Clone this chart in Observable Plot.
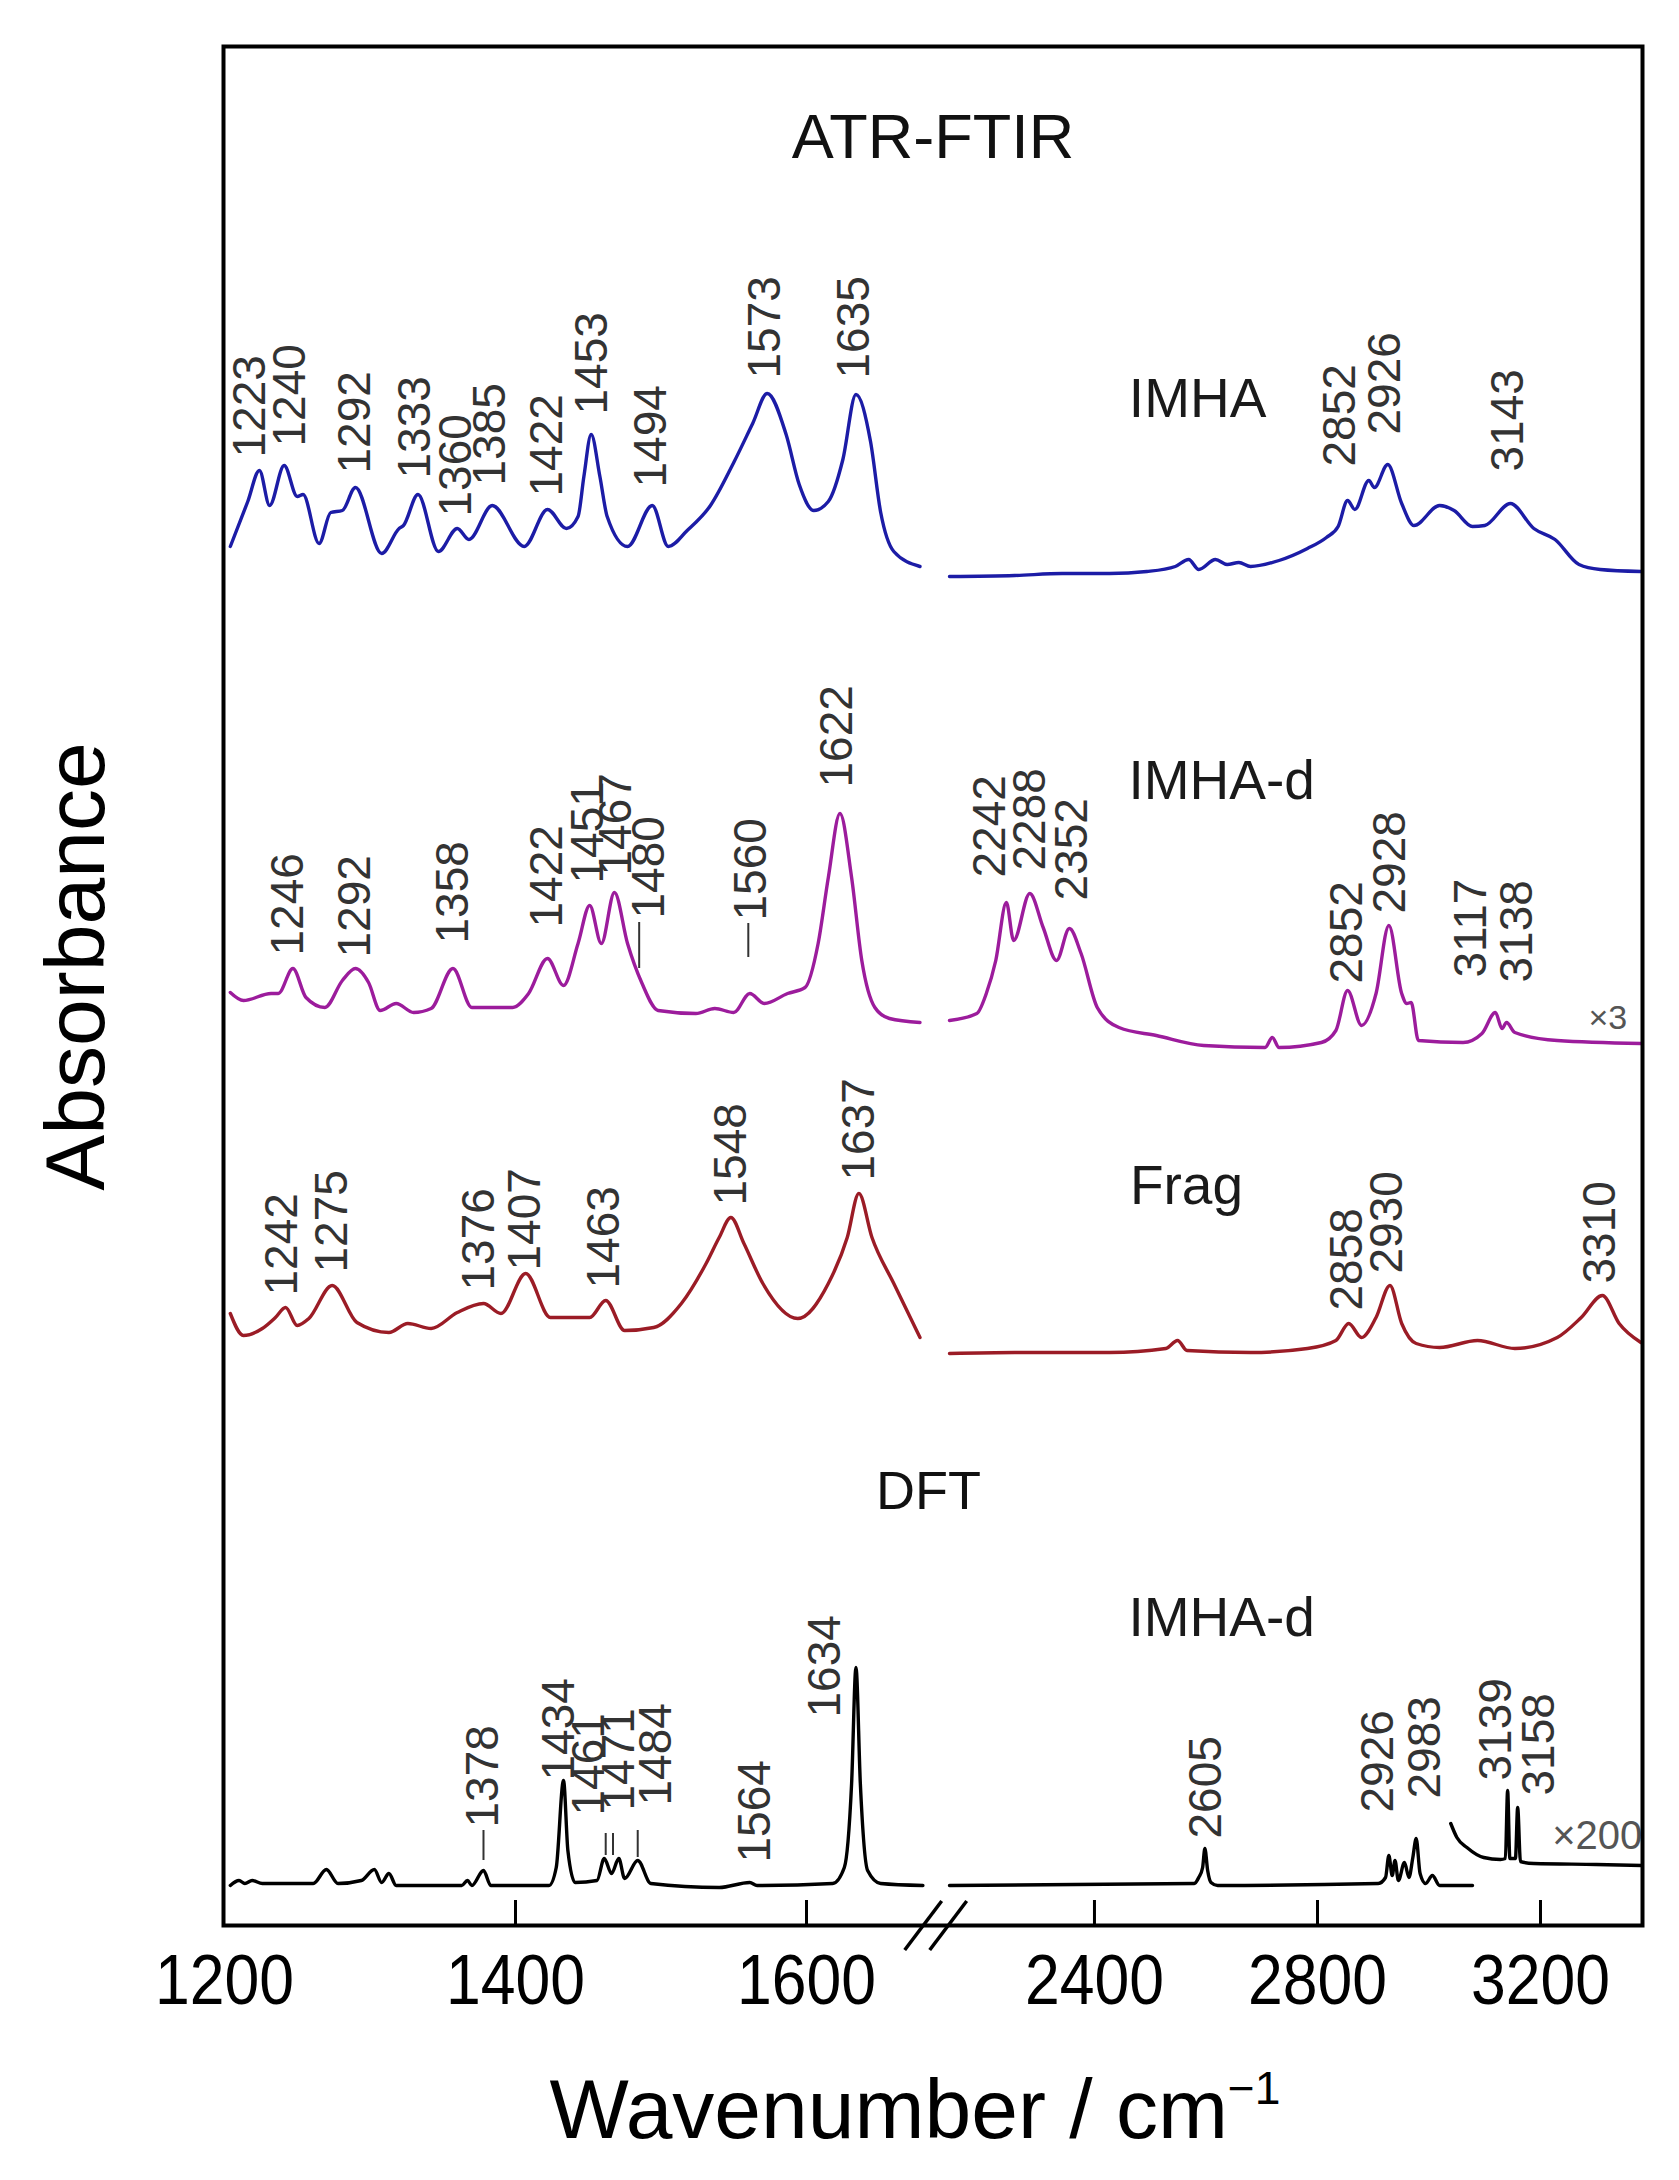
<!DOCTYPE html>
<html>
<head>
<meta charset="utf-8">
<script src="https://cdn.jsdelivr.net/npm/d3@7"></script>
<script src="https://cdn.jsdelivr.net/npm/@observablehq/plot@0.6"></script>
<style>
  html, body { margin: 0; padding: 0; background: #fff; }
  #chart svg { display: block; }
</style>
</head>
<body>
<div id="chart"></div>
<script>
// ---------------- data (wavenumber / cm^-1, absorbance in arbitrary units) ----------------
const tickValues = [1200, 1400, 1600, 2400, 2800, 3200];
const breakDomain = [1200, 1680, 2140, 3382];   // broken axis: 1200–1680 | 2140–3382

const offsetIMHA = 1350, offsetIMHAd = 910, offsetFrag = 590, offsetDFT = 40;

const imhaLeft = [
  [1204, 29], [1216, 74], [1224, 105], [1231, 70], [1241, 110], [1250, 79], [1254, 81], [1265, 32],
  [1273, 63], [1281, 65], [1290, 88], [1308, 22], [1320, 47], [1323, 50], [1333, 81], [1347, 24],
  [1360, 47], [1368, 36], [1384, 70], [1406, 29], [1422, 66], [1435, 47], [1443, 59], [1447, 99],
  [1452, 141], [1458, 99], [1463, 59], [1477, 29], [1494, 70], [1505, 29], [1518, 45], [1534, 70],
  [1550, 113], [1563, 152], [1573, 182], [1586, 141], [1595, 91], [1605, 65], [1615, 74], [1625, 116],
  [1634, 181], [1644, 134], [1651, 63], [1660, 24], [1678, 9]
];
const imhaRight = [
  [2140, -1], [2257, 0], [2342, 2], [2427, 2], [2494, 4], [2545, 9], [2569, 16], [2587, 6],
  [2617, 16], [2638, 11], [2659, 13], [2680, 9], [2731, 15], [2782, 27], [2816, 38], [2837, 49],
  [2854, 75], [2867, 66], [2892, 95], [2902, 88], [2926, 111], [2951, 72], [2973, 50], [3019, 70],
  [3045, 65], [3078, 49], [3100, 50], [3146, 72], [3188, 47], [3226, 36], [3269, 11], [3307, 6],
  [3380, 4]
];
const imhadLeft = [
  [1204, 23], [1213, 15], [1232, 22], [1237, 22], [1247, 47], [1256, 18], [1269, 8], [1281, 35],
  [1290, 47], [1299, 33], [1307, 5], [1318, 12], [1330, 3], [1342, 7], [1357, 47], [1370, 8],
  [1398, 8], [1409, 22], [1422, 57], [1433, 30], [1443, 72], [1451, 110], [1459, 72], [1468, 123],
  [1477, 72], [1487, 32], [1498, 5], [1524, 2], [1537, 7], [1550, 3], [1561, 22], [1571, 12],
  [1587, 22], [1599, 28], [1608, 72], [1615, 138], [1623, 202], [1631, 138], [1638, 55], [1647, 8],
  [1657, -3], [1678, -7]
];
const imhadRight = [
  [2140, -5], [2189, 2], [2206, 22], [2223, 55], [2242, 113], [2255, 75], [2284, 122], [2308, 88],
  [2332, 55], [2355, 87], [2376, 62], [2405, 8], [2444, -12], [2511, -20], [2596, -30], [2706, -32],
  [2719, -22], [2731, -32], [2807, -27], [2833, -15], [2854, 25], [2879, -10], [2905, 22], [2928, 90],
  [2951, 22], [2960, 12], [2968, 13], [2981, -25], [3061, -27], [3095, -18], [3119, 3], [3131, -13],
  [3139, -7], [3154, -17], [3230, -25], [3380, -28]
];
const fragLeft = [
  [1204, 22], [1213, 0], [1226, 7], [1235, 18], [1242, 28], [1250, 10], [1258, 17], [1274, 50],
  [1291, 13], [1313, 3], [1326, 12], [1342, 7], [1360, 23], [1378, 32], [1390, 22], [1407, 62],
  [1424, 18], [1451, 18], [1462, 35], [1475, 5], [1495, 8], [1514, 32], [1531, 72], [1540, 98],
  [1548, 118], [1557, 92], [1570, 52], [1594, 17], [1615, 52], [1628, 98], [1636, 142], [1645, 98],
  [1660, 52], [1678, -2]
];
const fragRight = [
  [2140, -18], [2257, -17], [2427, -17], [2528, -13], [2549, -5], [2566, -15], [2680, -17], [2782, -13],
  [2833, -5], [2856, 12], [2879, -2], [2905, 18], [2930, 50], [2951, 12], [2977, -8], [3019, -12],
  [3087, -5], [3154, -13], [3230, -2], [3273, 18], [3311, 40], [3341, 12], [3380, -7]
];
const dftLeft = [
  [1204, 0], [1210, 5], [1214, 2], [1219, 5], [1226, 2], [1261, 2], [1270, 16], [1278, 2],
  [1294, 5], [1303, 16], [1308, 3], [1313, 12], [1318, 0], [1363, 0], [1367, 5], [1370, 0],
  [1378, 15], [1383, 0], [1423, 0], [1428, 18], [1433, 105], [1436, 35], [1441, 3], [1456, 5],
  [1461, 27], [1466, 12], [1471, 27], [1475, 7], [1484, 25], [1493, 2], [1540, -2], [1561, 3],
  [1566, 0], [1618, 2], [1626, 18], [1631, 102], [1634, 218], [1637, 102], [1642, 15], [1651, 2],
  [1680, 0]
];
const dftRight = [
  [2140, 0], [2579, 2], [2587, 8], [2594, 18], [2598, 37], [2603, 15], [2609, 3], [2621, 0],
  [2909, 2], [2922, 8], [2928, 30], [2934, 10], [2939, 25], [2945, 5], [2956, 23], [2964, 8],
  [2971, 28], [2977, 47], [2984, 12], [2994, 2], [3006, 10], [3019, 0], [3078, 0]
];
const dftRightX200 = [
  [3039, 62], [3050, 48], [3068, 38], [3098, 28], [3128, 26], [3137, 27], [3141, 95], [3145, 27],
  [3155, 27], [3159, 78], [3164, 24], [3188, 22], [3300, 21], [3382, 20]
];

// peak labels: [text, label position (wavenumber), label bottom (absorbance above offset)]
const imhaLabels = [
  ["1223", 1218, 118], ["1240", 1245, 129], ["1292", 1290, 102], ["1333", 1331, 97], ["1360", 1359, 59],
  ["1385", 1383, 90], ["1422", 1422, 79], ["1453", 1453, 161], ["1494", 1493, 88], ["1573", 1572, 197],
  ["1635", 1633, 197], ["2852", 2841, 109], ["2926", 2922, 141], ["3143", 3142, 104]
];
const imhadLabels = [
  ["1246", 1244, 60], ["1292", 1290, 58], ["1358", 1357, 72], ["1422", 1422, 88], ["1451", 1450, 132],
  ["1467", 1469, 140], ["1480", 1492, 97], ["1560", 1562, 95], ["1622", 1621, 228], ["2242", 2213, 138],
  ["2288", 2284, 145], ["2352", 2361, 115], ["2852", 2854, 32], ["2928", 2930, 102], ["3117", 3075, 38],
  ["3138", 3159, 33]
];
const fragLabels = [
  ["1242", 1240, 40], ["1275", 1274, 63], ["1376", 1375, 45], ["1407", 1407, 65], ["1463", 1461, 47],
  ["1548", 1548, 130], ["1637", 1636, 155], ["2858", 2854, 25], ["2930", 2926, 62], ["3310", 3307, 52]
];
const dftLabels = [
  ["1378", 1378, 58], ["1434", 1430, 105], ["1461", 1451, 70], ["1471", 1471, 75], ["1484", 1497, 80],
  ["1564", 1565, 23], ["1634", 1613, 168], ["2605", 2600, 47], ["2926", 2909, 73], ["2983", 2994, 87],
  ["3139", 3121, 105], ["3158", 3197, 90]
];
// leader dashes: [wavenumber, from, to]
const imhadLeaders = [[1485, 47, 93], [1560, 58, 92]];
const dftLeaders = [[1378, 25, 55], [1462, 30, 52], [1467, 30, 52], [1484, 28, 55]];

// series names: [text, wavenumber (centre), baseline above offset, offset]
const seriesNames = [
  ["IMHA", 2585, 159, offsetIMHA], ["IMHA-d", 2628, 217, offsetIMHAd],
  ["Frag", 2565, 132, offsetFrag], ["IMHA-d", 2628, 250, offsetDFT]
];
const scaleNotes = [["×3", 3286, -13, offsetIMHAd], ["×200", 3221, 37, offsetDFT]];

const colIMHA = "#1c1ca6", colIMHAd = "#9c1c9c", colFrag = "#9b1c26", colDFT = "#000";

// ---------------- chart ----------------
const pts = (arr, off) => arr.map(([x, v]) => ({x, y: v + off}));
const curve = (arr, off, stroke) =>
  Plot.line(pts(arr, off), {x: "x", y: "y", stroke, strokeWidth: 3.4, curve: "monotone-x"});
const labels = (arr, off) =>
  Plot.text(arr, {x: d => d[1], y: d => d[2] + off, text: d => d[0], rotate: -90,
    textAnchor: "start", fontSize: 46, fill: "#333"});
const leaders = (arr, off) =>
  Plot.ruleX(arr, {x: d => d[0], y1: d => d[1] + off, y2: d => d[2] + off, stroke: "#333", strokeWidth: 2});

const plot = Plot.plot({
  width: 1679,
  height: 2180,
  marginLeft: 223,
  marginRight: 37,
  marginTop: 46,
  marginBottom: 255,
  style: {fontFamily: "'Liberation Sans', Arial, Helvetica, sans-serif", background: "#fff", overflow: "visible"},
  x: {type: "linear", domain: breakDomain, range: [224, 922.4, 949, 1641.5], axis: null},
  y: {domain: [0, 1879], axis: null},
  marks: [
    curve(imhaLeft, offsetIMHA, colIMHA),
    curve(imhaRight, offsetIMHA, colIMHA),
    curve(imhadLeft, offsetIMHAd, colIMHAd),
    curve(imhadRight, offsetIMHAd, colIMHAd),
    curve(fragLeft, offsetFrag, colFrag),
    curve(fragRight, offsetFrag, colFrag),
    curve(dftLeft, offsetDFT, colDFT),
    curve(dftRight, offsetDFT, colDFT),
    curve(dftRightX200, offsetDFT, colDFT),
    labels(imhaLabels, offsetIMHA),
    labels(imhadLabels, offsetIMHAd),
    labels(fragLabels, offsetFrag),
    labels(dftLabels, offsetDFT),
    leaders(imhadLeaders, offsetIMHAd),
    leaders(dftLeaders, offsetDFT),
    Plot.text(seriesNames, {x: d => d[1], y: d => d[2] + d[3], text: d => d[0],
      lineAnchor: "bottom", fontSize: 55, fill: "#1a1a1a"}),
    Plot.text(scaleNotes, {x: d => d[1], y: d => d[2] + d[3], text: d => d[0],
      textAnchor: "start", lineAnchor: "bottom", fontSize: d => d[0] === "×3" ? 34 : 40, fill: "#555", clip: true}),
    Plot.text(["ATR-FTIR"], {text: d => d, frameAnchor: "top", dy: 111, lineAnchor: "bottom", fontSize: 63, fill: "#111"}),
    Plot.text(["DFT"], {text: d => d, frameAnchor: "top", dx: -4.5, dy: 1462, lineAnchor: "bottom", fontSize: 54, fill: "#111"}),
    // bottom axis: inward ticks and labels
    Plot.ruleX(tickValues.filter(t => t !== 1200), {x: d => d, y1: 0, y2: 25, stroke: "#000", strokeWidth: 3}),
    Plot.text(tickValues, {x: d => d, y: 0, text: d => String(d), dy: 56, fontSize: 70, fill: "#000"}),
    Plot.text(["Wavenumber / cm"], {text: d => d, frameAnchor: "bottom", dx: -18, dy: 212, lineAnchor: "bottom", fontSize: 84, fill: "#000"}),
    Plot.text(["Absorbance"], {text: d => d, frameAnchor: "left", rotate: -90, textAnchor: "middle", dx: -146, dy: -19.5, fontSize: 84, fill: "#000"}),
    Plot.frame({stroke: "#000", strokeWidth: 4})
  ]
});

document.getElementById("chart").appendChild(plot);

const svg = d3.select(plot.tagName.toLowerCase() === "svg" ? plot : plot.querySelector("svg"));

// superscript "−1" on the x-axis title
svg.selectAll("text").filter(function () { return this.textContent === "Wavenumber / cm"; })
  .append("tspan").attr("dy", "-0.72em").attr("font-size", "0.55em").text("−1");

// tick labels are slightly condensed in the original figure
const tickSet = new Set(tickValues.map(String));
svg.selectAll("text").filter(function () {
  return tickSet.has(this.textContent) && this.getAttribute("transform") && !/rotate/.test(this.getAttribute("transform"));
}).each(function () {
  const g = this.closest("g");
  if (g && g.getAttribute("font-size") === "70") {
    this.setAttribute("textLength", 139);
    this.setAttribute("lengthAdjust", "spacingAndGlyphs");
  }
});

// axis-break symbol "//" placed from the x scale
const xs = plot.scale("x"), ys = plot.scale("y");
const cx = (xs.apply(1680) + xs.apply(2140)) / 2;
const cy = ys.apply(0);
[[-31, 25, 6, -24], [-6, 25, 31, -24]].forEach(([a, b, c, d]) => {
  svg.append("line")
    .attr("x1", cx + a).attr("y1", cy + b).attr("x2", cx + c).attr("y2", cy + d)
    .attr("stroke", "#000").attr("stroke-width", 3.5);
});
</script>
</body>
</html>
